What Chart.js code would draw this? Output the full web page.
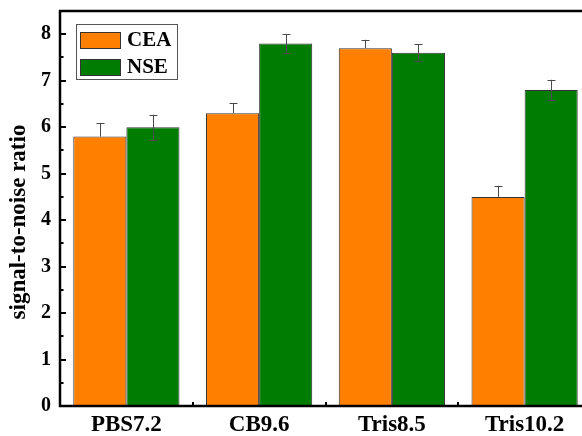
<!DOCTYPE html>
<html lang="en">
  <head>
    <meta charset="UTF-8" />
    <title>Signal-to-noise ratio</title>
    <style>
      body {
        margin: 0;
        padding: 0;
        background: white;
        overflow: hidden;
      }
    </style>
  </head>
  <body>
    <canvas id="snrChart" width="592" height="436"></canvas>

    <script src="https://cdn.jsdelivr.net/npm/chart.js"></script>
    <script>
      const categories = ["PBS7.2", "CB9.6", "Tris8.5", "Tris10.2"];
      const ceaValues = [5.8, 6.3, 7.7, 4.5];
      const nseValues = [6.0, 7.8, 7.6, 6.8];
      const ceaErrors = [0.28, 0.21, 0.18, 0.24];
      const nseErrors = [0.27, 0.2, 0.18, 0.22];
      const yTicks = [0, 1, 2, 3, 4, 5, 6, 7, 8];
      const yTitle = "signal-to-noise ratio";

      const serif = "'Liberation Serif', 'Times New Roman', serif";

      // frame, inward ticks, error bars, axis title and the boxed legend
      const extras = {
        id: "extras",
        afterDatasetsDraw(chart) {
          const ctx = chart.ctx;
          const area = chart.chartArea;
          const x = chart.scales.x;
          const y = chart.scales.y;

          // error bars
          ctx.save();
          ctx.strokeStyle = "#4a4a4a";
          ctx.lineWidth = 1;
          chart.data.datasets.forEach((ds, di) => {
            const meta = chart.getDatasetMeta(di);
            meta.data.forEach((bar, i) => {
              const v = ds.data[i];
              const e = ds.errors[i];
              const top = y.getPixelForValue(v + e);
              const bottom = ds.fullError ? y.getPixelForValue(v - e) : y.getPixelForValue(v);
              const cx = Math.round(bar.x) + 0.5;
              ctx.beginPath();
              ctx.moveTo(cx, top);
              ctx.lineTo(cx, bottom);
              ctx.moveTo(cx - 4, Math.round(top) + 0.5);
              ctx.lineTo(cx + 4, Math.round(top) + 0.5);
              if (ds.fullError) {
                ctx.moveTo(cx - 4, Math.round(bottom) + 0.5);
                ctx.lineTo(cx + 4, Math.round(bottom) + 0.5);
              }
              ctx.stroke();
            });
          });
          ctx.restore();

          // frame
          ctx.save();
          ctx.strokeStyle = "#000";
          ctx.lineWidth = 2.5;
          ctx.strokeRect(area.left, area.top, area.right - area.left + 4, area.bottom - area.top);
          ctx.restore();

          // y ticks, pointing in
          ctx.save();
          ctx.strokeStyle = "#000";
          ctx.lineWidth = 2;
          ctx.beginPath();
          for (let v = 0; v <= 8; v += 0.5) {
            const py = Math.round(y.getPixelForValue(v));
            const len = Number.isInteger(v) ? 6 : 3.5;
            ctx.moveTo(area.left, py);
            ctx.lineTo(area.left + len, py);
          }
          // x ticks between categories
          for (let i = 1; i < categories.length; i++) {
            const px = Math.round(x.getPixelForValue(i - 0.5));
            ctx.moveTo(px, area.bottom);
            ctx.lineTo(px, area.bottom - 4);
          }
          ctx.stroke();
          ctx.restore();

          // y title
          ctx.save();
          ctx.translate(19, 222);
          ctx.rotate(-Math.PI / 2);
          ctx.fillStyle = "#000";
          ctx.font = "bold 23px " + serif;
          ctx.textAlign = "center";
          ctx.textBaseline = "middle";
          ctx.fillText(yTitle, 0, 0);
          ctx.restore();

          // legend
          const lx = area.left + 16;
          const ly = area.top + 13;
          ctx.save();
          ctx.fillStyle = "#fff";
          ctx.fillRect(lx, ly, 101, 55);
          ctx.strokeStyle = "#555";
          ctx.lineWidth = 1;
          ctx.strokeRect(lx + 0.5, ly + 0.5, 101, 55);
          chart.data.datasets.forEach((ds, di) => {
            const sy = ly + 8 + di * 27;
            ctx.fillStyle = ds.backgroundColor;
            ctx.fillRect(lx + 4, sy, 40, 16);
            ctx.strokeStyle = "#333";
            ctx.strokeRect(lx + 4.5, sy + 0.5, 40, 16);
            ctx.fillStyle = "#000";
            ctx.font = "bold 21px " + serif;
            ctx.textBaseline = "middle";
            ctx.fillText(ds.label, lx + 51, sy + 9);
          });
          ctx.restore();
        },
      };

      new Chart(document.getElementById("snrChart"), {
        type: "bar",
        data: {
          labels: categories,
          datasets: [
            {
              label: "CEA",
              data: ceaValues,
              errors: ceaErrors,
              fullError: false,
              backgroundColor: "#ff8000",
              borderColor: "#333",
              borderWidth: 1,
            },
            {
              label: "NSE",
              data: nseValues,
              errors: nseErrors,
              fullError: true,
              backgroundColor: "#007c00",
              borderColor: "#333",
              borderWidth: 1,
            },
          ],
        },
        options: {
          responsive: false,
          animation: false,
          layout: { padding: { top: 11, left: 0, right: 1, bottom: 0 } },
          datasets: {
            bar: { categoryPercentage: 0.8, barPercentage: 1 },
          },
          plugins: {
            legend: { display: false },
            tooltip: { enabled: false },
          },
          scales: {
            x: {
              grid: { display: false, drawTicks: false },
              border: { display: false },
              ticks: {
                color: "#000",
                padding: 5,
                font: { family: serif, size: 23, weight: "bold" },
              },
              afterFit(scale) {
                scale.height = 30;
                scale.paddingLeft = 0;
                scale.paddingRight = 0;
              },
            },
            y: {
              min: 0,
              max: 8.5,
              grid: { display: false, drawTicks: false },
              border: { display: false },
              ticks: {
                color: "#000",
                padding: 9,
                stepSize: 1,
                font: { family: serif, size: 20, weight: "bold" },
              },
              afterBuildTicks(scale) {
                scale.ticks = yTicks.map((v) => ({ value: v }));
              },
              afterFit(scale) {
                scale.width = 60;
                scale.paddingTop = 0;
                scale.paddingBottom = 0;
              },
            },
          },
        },
        plugins: [extras],
      });
    </script>
  </body>
</html>
